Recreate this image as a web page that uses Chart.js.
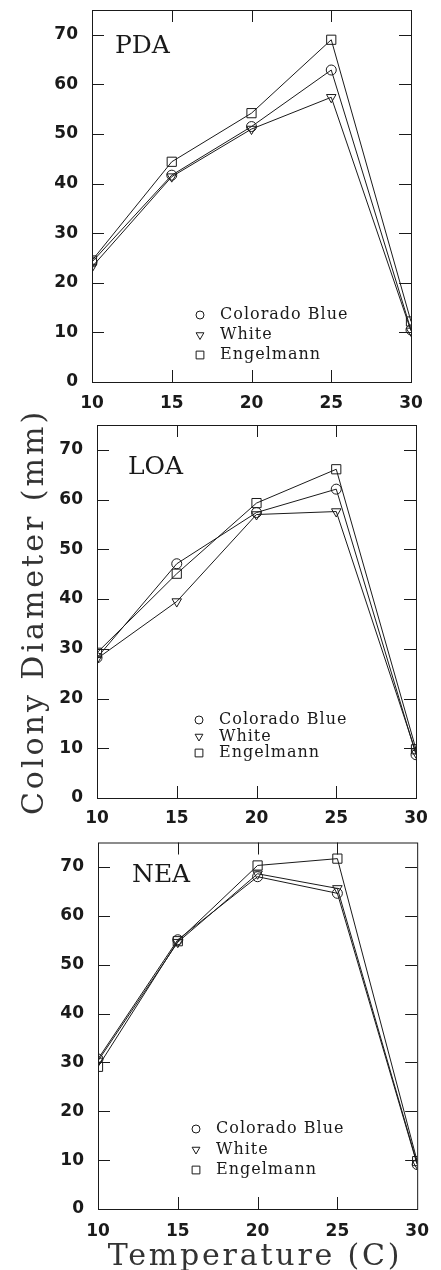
<!DOCTYPE html>
<html>
<head>
<meta charset="utf-8">
<script src="https://cdn.jsdelivr.net/npm/chart.js@4.4.1/dist/chart.umd.min.js"></script>
<style>
  body { margin: 0; background: #fff; width: 441px; height: 1270px; position: relative; overflow: hidden; }
  .panel { position: absolute; left: 0; width: 441px; }
  .title { position: absolute; font-family: 'DejaVu Serif', serif; color: #333; white-space: nowrap; text-align: center; }
  #ytitle { left: -182px; top: 592px; width: 430px; height: 40px; line-height: 40px; font-size: 30px; letter-spacing: 3px; transform: rotate(-90deg); }
  #xtitle { left: 55px; top: 1237px; width: 400px; height: 36px; line-height: 36px; font-size: 30px; letter-spacing: 2.8px; }
</style>
</head>
<body>
<div class="panel" style="top:0;height:415px"><canvas id="cPDA"></canvas></div>
<div class="panel" style="top:415px;height:420px"><canvas id="cLOA"></canvas></div>
<div class="panel" style="top:835px;height:405px"><canvas id="cNEA"></canvas></div>
<div class="title" id="ytitle">Colony Diameter (mm)</div>
<div class="title" id="xtitle">Temperature (C)</div>

<script>
// --- Datos ---
const temps = [10, 15, 20, 25, 30];
const xTicks = [10, 15, 20, 25, 30];
const yTicks = [0, 10, 20, 30, 40, 50, 60, 70];
const seriesNames = ['Colorado Blue', 'White', 'Engelmann'];

const pdaBlue  = [24.2, 41.7, 51.5, 62.9, 10.5];
const pdaWhite = [23.2, 41.4, 51.0, 57.4, 10.3];
const pdaEngel = [24.5, 44.4, 54.2, 69.0, 12.2];

const loaBlue  = [28.2, 47.1, 57.4, 62.1, 8.7];
const loaWhite = [28.0, 39.5, 57.0, 57.6, 9.1];
const loaEngel = [29.2, 45.1, 59.3, 66.1, 9.8];

const neaBlue  = [30.7, 55.1, 68.0, 64.6, 9.1];
const neaWhite = [30.3, 54.6, 68.6, 65.6, 9.3];
const neaEngel = [29.1, 54.8, 70.3, 71.7, 9.8];

// estilos de marcador por serie
const markers = [
  { pointStyle: 'circle', radius: 5, rotation: 0, legendRadius: 4 },
  { pointStyle: 'triangle', radius: 5.5, rotation: 180, legendRadius: 4.5 },
  { pointStyle: 'rect', radius: 6.5, rotation: 0, legendRadius: 5.5 }
];

const ink = '#1a1a1a';
const tickFont = { family: 'DejaVu Sans', size: 17, weight: 'bold' };

// --- Plugin: marco con ticks hacia adentro ---
const framePlugin = {
  id: 'frame',
  afterDraw(chart) {
    const { ctx, chartArea: a, scales } = chart;
    const len = 12;
    ctx.save();
    ctx.strokeStyle = ink;
    ctx.lineWidth = 1;
    ctx.strokeRect(a.left + 0.5, a.top + 0.5, a.right - a.left, a.bottom - a.top);
    ctx.beginPath();
    xTicks.slice(1, -1).forEach(v => {
      const px = Math.round(scales.x.getPixelForValue(v)) + 0.5;
      ctx.moveTo(px, a.bottom); ctx.lineTo(px, a.bottom - len);
      ctx.moveTo(px, a.top); ctx.lineTo(px, a.top + len);
    });
    yTicks.slice(1).forEach(v => {
      const py = Math.round(scales.y.getPixelForValue(v)) + 0.5;
      ctx.moveTo(a.left, py); ctx.lineTo(a.left + len, py);
      ctx.moveTo(a.right, py); ctx.lineTo(a.right - len, py);
    });
    ctx.stroke();
    ctx.restore();
  }
};

// --- Plugin: etiqueta del panel + leyenda interna ---
const innerPlugin = {
  id: 'inner',
  afterDraw(chart, args, opts) {
    const { ctx, chartArea: a } = chart;
    ctx.save();
    ctx.fillStyle = ink;
    ctx.font = '25px "DejaVu Serif"';
    ctx.textBaseline = 'alphabetic';
    ctx.fillText(opts.label, a.left + opts.labelX, a.top + opts.labelY);

    ctx.font = '16px "DejaVu Serif"';
    ctx.textBaseline = 'middle';
    seriesNames.forEach((name, i) => {
      const y = a.bottom + opts.legendY + i * opts.legendGap;
      const mx = a.left + opts.legendX;
      const m = markers[i];
      ctx.strokeStyle = ink;
      ctx.fillStyle = '#fff';
      ctx.lineWidth = 1;
      ctx.letterSpacing = '0px';
      if (Chart.helpers && Chart.helpers.drawPoint) {
        Chart.helpers.drawPoint(ctx, { pointStyle: m.pointStyle, radius: m.legendRadius, rotation: m.rotation, borderWidth: 1 }, mx, y);
      }
      ctx.fillStyle = ink;
      ctx.letterSpacing = '1px';
      ctx.fillText(name, mx + 20, y);
    });
    ctx.restore();
  }
};

function makePanel(id, series, box, extra) {
  const el = document.getElementById(id);
  const wrap = el.parentNode;
  const top = parseFloat(wrap.style.top);
  const h = parseFloat(wrap.style.height);

  const datasets = series.map((vals, i) => ({
    label: seriesNames[i],
    data: temps.map((t, k) => ({ x: t, y: vals[k] })),
    borderColor: ink,
    borderWidth: 1,
    backgroundColor: '#fff',
    pointStyle: markers[i].pointStyle,
    pointRadius: markers[i].radius,
    pointRotation: markers[i].rotation,
    pointBorderColor: ink,
    pointBackgroundColor: 'rgba(255,255,255,0)',
    pointBorderWidth: 1,
    tension: 0
  }));

  new Chart(el, {
    type: 'line',
    data: { datasets },
    options: {
      responsive: true,
      maintainAspectRatio: false,
      animation: false,
      layout: { padding: { left: 0, right: 441 - box.right, top: box.top - top, bottom: 0 } },
      plugins: {
        legend: { display: false },
        tooltip: { enabled: false },
        inner: extra
      },
      scales: {
        x: {
          type: 'linear', min: 10, max: 30,
          grid: { display: false, drawTicks: false },
          border: { display: false },
          afterBuildTicks: s => { s.ticks = xTicks.map(v => ({ value: v })); },
          afterFit: s => { s.height = top + h - box.bottom; },
          ticks: { color: ink, font: tickFont, padding: extra.xPad, maxRotation: 0, autoSkip: false }
        },
        y: {
          type: 'linear', min: 0, max: 75,
          grid: { display: false, drawTicks: false },
          border: { display: false },
          afterBuildTicks: s => { s.ticks = yTicks.map(v => ({ value: v })); },
          afterFit: s => { s.width = box.left; s.paddingTop = 0; s.paddingBottom = 0; },
          ticks: { color: ink, font: tickFont, padding: 14 }
        }
      }
    },
    plugins: [framePlugin, innerPlugin]
  });
}

makePanel('cPDA', [pdaBlue, pdaWhite, pdaEngel],
  { left: 92, right: 411, top: 10, bottom: 382 },
  { label: 'PDA', labelX: 23, labelY: 43, legendX: 108, legendY: -67, legendGap: 20, xPad: 11 });

makePanel('cLOA', [loaBlue, loaWhite, loaEngel],
  { left: 97, right: 416, top: 425, bottom: 798 },
  { label: 'LOA', labelX: 31, labelY: 49, legendX: 102, legendY: -78, legendGap: 16.5, xPad: 10 });

makePanel('cNEA', [neaBlue, neaWhite, neaEngel],
  { left: 98, right: 418, top: 838, bottom: 1209 },
  { label: 'NEA', labelX: 34, labelY: 39, legendX: 98, legendY: -80, legendGap: 20.5, xPad: 12 });
</script>
</body>
</html>
